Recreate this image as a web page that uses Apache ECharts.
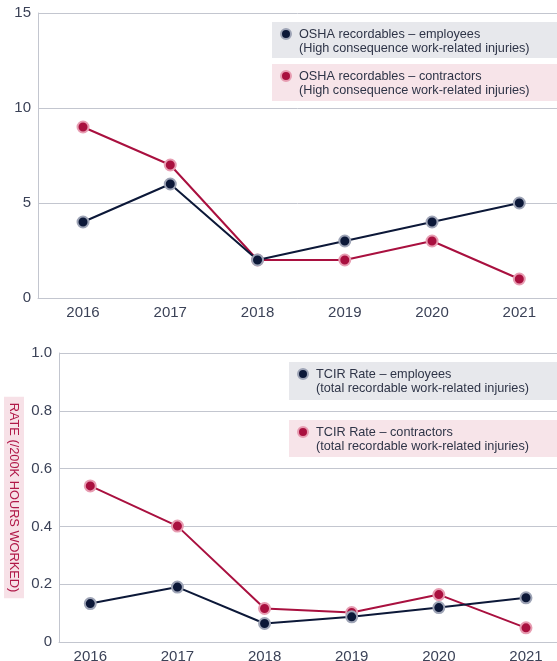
<!DOCTYPE html>
<html><head><meta charset="utf-8">
<script src="https://cdn.jsdelivr.net/npm/echarts@6/dist/echarts.min.js"></script>
<style>html,body{margin:0;padding:0;background:#fff}#c{width:557px;height:661px}</style>
</head><body><div id="c"></div>
<script>
var years = [2016, 2017, 2018, 2019, 2020, 2021];
var oshaEmployees = [4, 6, 2, 3, 4, 5];
var oshaContractors = [9, 7, 2, 2, 3, 1];
var tcirEmployees = [0.133, 0.19, 0.064, 0.087, 0.119, 0.153];
var tcirContractors = [0.54, 0.401, 0.116, 0.102, 0.164, 0.049];
var topTicks = [0, 5, 10, 15];
var bottomTicks = [0, 0.2, 0.4, 0.6, 0.8, 1.0];
var legendTop = ['OSHA recordables \u2013 employees\n(High consequence work-related injuries)', 'OSHA recordables \u2013 contractors\n(High consequence work-related injuries)'];
var legendBottom = ['TCIR Rate \u2013 employees\n(total recordable work-related injuries)', 'TCIR Rate \u2013 contractors\n(total recordable work-related injuries)'];
var yTitle = 'RATE (/200K HOURS WORKED)';

var NAVY = '#0c1838', NAVY_B = '#9ea4b6', RED = '#a9103f', RED_B = '#e79db2';
var GRID = '#c3c6cf', LABEL = '#3b4257', FONT = 'Liberation Sans, Arial, sans-serif';

function pairs(vals){ return years.map(function(y,i){ return [y, vals[i]]; }); }

function xAxis(gi, min, max){
  return {type:'value', gridIndex:gi, min:min, max:max,
    axisLine:{show:true, lineStyle:{color:GRID, width:1}}, axisTick:{show:false}, splitLine:{show:false},
    axisLabel:{customValues:years, color:LABEL, fontSize:15, fontFamily:FONT, margin:7, formatter:function(v){return String(Math.round(v));}}};
}
function yAxis(gi, max, interval, fmt, extra){
  var o = {type:'value', gridIndex:gi, min:0, max:max, interval:interval,
    axisLine:{show:true, lineStyle:{color:GRID, width:1}}, axisTick:{show:false},
    splitLine:{show:true, lineStyle:{color:GRID, width:1}},
    axisLabel:{color:LABEL, fontSize:15, fontFamily:FONT, margin:7, formatter:fmt}};
  for (var k in extra) o[k] = extra[k];
  return o;
}
function series(name, gi, vals, c, b){
  return {name:name, type:'line', xAxisIndex:gi, yAxisIndex:gi, data:pairs(vals),
    symbol:'circle', symbolSize:11, lineStyle:{color:c, width:2}, itemStyle:{color:c, borderColor:b, borderWidth:2},
    z: c===NAVY?3:2, animation:false};
}
function legendBox(x, y, w, h, bg, dot, dotB, txt){
  return [
    {type:'rect', shape:{x:x, y:y, width:w, height:h}, style:{fill:bg}, z:10},
    {type:'circle', shape:{cx:x+14, cy:y+12, r:5}, style:{fill:dot, stroke:dotB, lineWidth:2}, z:11},
    {type:'text', x:x+27, y:y+5, style:{text:txt, fill:'#2e3447', font:'12.7px ' + FONT, lineHeight:14.5}, z:11}
  ];
}

var chart = echarts.init(document.getElementById('c'), null, {renderer:'canvas'});
chart.setOption({
  backgroundColor:'#fff',
  animation:false,
  grid:[{left:38, right:0, top:13, height:285, outerBoundsMode:'none', containLabel:false},
        {left:59, right:0, top:353, height:289, outerBoundsMode:'none', containLabel:false}],
  xAxis:[xAxis(0, 2015.484, 2021.432), xAxis(1, 2015.641, 2021.356)],
  yAxis:[
    yAxis(0, 15, 5, function(v){return String(v);}, {}),
    yAxis(1, 1.0, 0.2, function(v){return v===0?'0':v.toFixed(1);}, {
      name:yTitle, nameLocation:'middle', nameRotate:-90, nameGap:35, nameMoveOverlap:false,
      nameTextStyle:{color:'#b01848', fontSize:12.8, fontFamily:FONT, backgroundColor:'#f7e1e7', padding:[4,6,3,6]}})
  ],
  series:[
    series('OSHA recordables – contractors', 0, oshaContractors, RED, RED_B),
    series('OSHA recordables – employees', 0, oshaEmployees, NAVY, NAVY_B),
    series('TCIR Rate – contractors', 1, tcirContractors, RED, RED_B),
    series('TCIR Rate – employees', 1, tcirEmployees, NAVY, NAVY_B)
  ],
  graphic: [].concat(
    legendBox(272, 22, 285, 36, '#e7e8ec', NAVY, NAVY_B, legendTop[0]),
    legendBox(272, 64, 285, 37, '#f7e4e9', RED, RED_B, legendTop[1]),
    legendBox(289, 362, 268, 38, '#e7e8ec', NAVY, NAVY_B, legendBottom[0]),
    legendBox(289, 420, 268, 37, '#f7e4e9', RED, RED_B, legendBottom[1])
  )
});
</script></body></html>
